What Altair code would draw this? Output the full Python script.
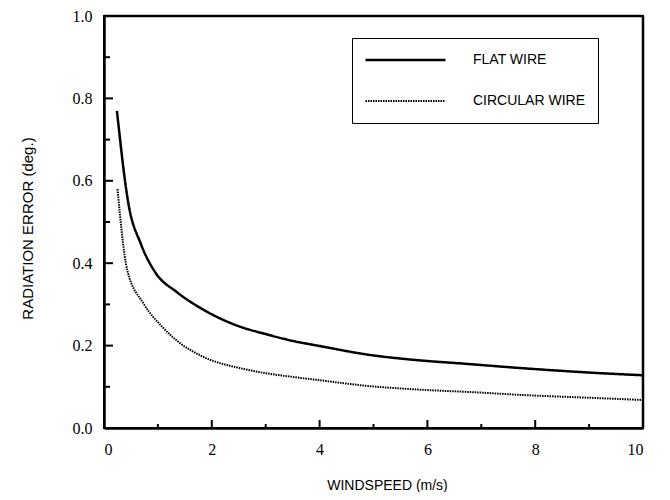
import altair as alt
import pandas as pd

# ---- data ----
flat_x = [0.24, 0.45, 0.69, 0.95, 1.35, 1.78, 2.0, 2.48, 3.0, 3.48, 4.0, 4.9, 5.87, 6.59, 7.78, 9.08, 10.0]
flat_y = [0.77, 0.547, 0.445, 0.378, 0.330, 0.292, 0.276, 0.248, 0.228, 0.212, 0.199, 0.178, 0.164, 0.157, 0.145, 0.134, 0.128]
circ_x = [0.25, 0.43, 0.73, 1.1, 1.4, 1.79, 2.6, 3.0, 3.5, 4.0, 4.9, 5.87, 6.84, 7.78, 9.08, 10.0]
circ_y = [0.58, 0.384, 0.303, 0.243, 0.207, 0.176, 0.143, 0.133, 0.124, 0.116, 0.102, 0.093, 0.087, 0.080, 0.073, 0.068]
series_names = ["FLAT WIRE", "CIRCULAR WIRE"]

x_major = [0, 2, 4, 6, 8, 10]
x_minor = [1, 3, 5, 7, 9]
y_major = [0.0, 0.2, 0.4, 0.6, 0.8, 1.0]
y_minor = [0.1, 0.3, 0.5, 0.7, 0.9]

W, H = 539, 412

df = pd.concat([
    pd.DataFrame({"x": flat_x, "y": flat_y, "series": series_names[0]}),
    pd.DataFrame({"x": circ_x, "y": circ_y, "series": series_names[1]}),
])

xs = alt.Scale(domain=[0, 10], nice=False, zero=False)
ys = alt.Scale(domain=[0, 1], nice=False, zero=False)

x_axis = alt.Axis(
    values=x_major, format="d", title="WINDSPEED  (m/s)", tickSize=0, grid=False,
    domain=True, domainColor="#000000", domainWidth=2.5,
    labelFont="Liberation Serif", labelFontSize=16, labelColor="black", labelPadding=13,
    titleFont="Liberation Sans", titleFontSize=14, titleFontWeight="normal", titleColor="black",
    titleX=283, titleY=57, titleBaseline="middle", titleAlign="center",
)
y_axis = alt.Axis(
    values=y_major, format=".1f", title="RADIATION ERROR (deg.)", tickSize=0, grid=False,
    domain=True, domainColor="#000000", domainWidth=2.5,
    labelFont="Liberation Serif", labelFontSize=16, labelColor="black", labelPadding=12,
    titleFont="Liberation Sans", titleFontSize=15, titleFontWeight="normal", titleColor="black",
    titleX=-77, titleY=212, titleAngle=-90, titleBaseline="middle", titleAlign="center",
)

legend = alt.Legend(
    title=None, orient="none", legendX=248, legendY=22,
    symbolType="stroke", symbolSize=6400, clipHeight=20, rowPadding=21,
    symbolStrokeColor="black", labelOffset=26,
    labelFont="Liberation Sans", labelFontSize=14, labelColor="black",
    strokeColor="black", fillColor="white", padding=12,
)

lines = alt.Chart(df).mark_line(color="black", stroke="black", interpolate="monotone").encode(
    x=alt.X("x:Q", scale=xs, axis=x_axis),
    y=alt.Y("y:Q", scale=ys, axis=y_axis),
    strokeDash=alt.StrokeDash("series:N", scale=alt.Scale(domain=series_names, range=[[1, 0], [1.5, 1]]), legend=legend),
    strokeWidth=alt.StrokeWidth("series:N", scale=alt.Scale(domain=series_names, range=[2.5, 2]), legend=legend),
)

def xticks(vals, length):
    return alt.Chart(pd.DataFrame({"x": vals})).mark_rule(color="black", strokeWidth=2).encode(
        x=alt.X("x:Q", scale=xs, axis=x_axis),
        y=alt.value(H), y2=alt.value(H - length),
    )

def yticks(vals, length):
    return alt.Chart(pd.DataFrame({"y": vals})).mark_rule(color="black", strokeWidth=2).encode(
        y=alt.Y("y:Q", scale=ys, axis=y_axis),
        x=alt.value(0), x2=alt.value(length),
    )

one = pd.DataFrame({"f": [0]})
frame_top = alt.Chart(one).mark_rule(color="#000000", strokeWidth=2.5).encode(
    x=alt.value(0), x2=alt.value(W), y=alt.value(0)
)
frame_right = alt.Chart(one).mark_rule(color="#000000", strokeWidth=2.5).encode(
    x=alt.value(W), y=alt.value(0), y2=alt.value(H)
)

chart = alt.layer(
    frame_top, frame_right,
    xticks(x_major, 8), xticks(x_minor, 4), yticks(y_major, 9), yticks(y_minor, 6), lines
).properties(
    width=W, height=H,
    background="white",
    autosize=alt.AutoSizeParams(type="none"),
    padding={"left": 96, "top": 8, "right": 19, "bottom": 64},
).configure_view(
    stroke="black", strokeWidth=2
)

chart.save("out.html", embed_options={"renderer": "svg", "actions": False})
